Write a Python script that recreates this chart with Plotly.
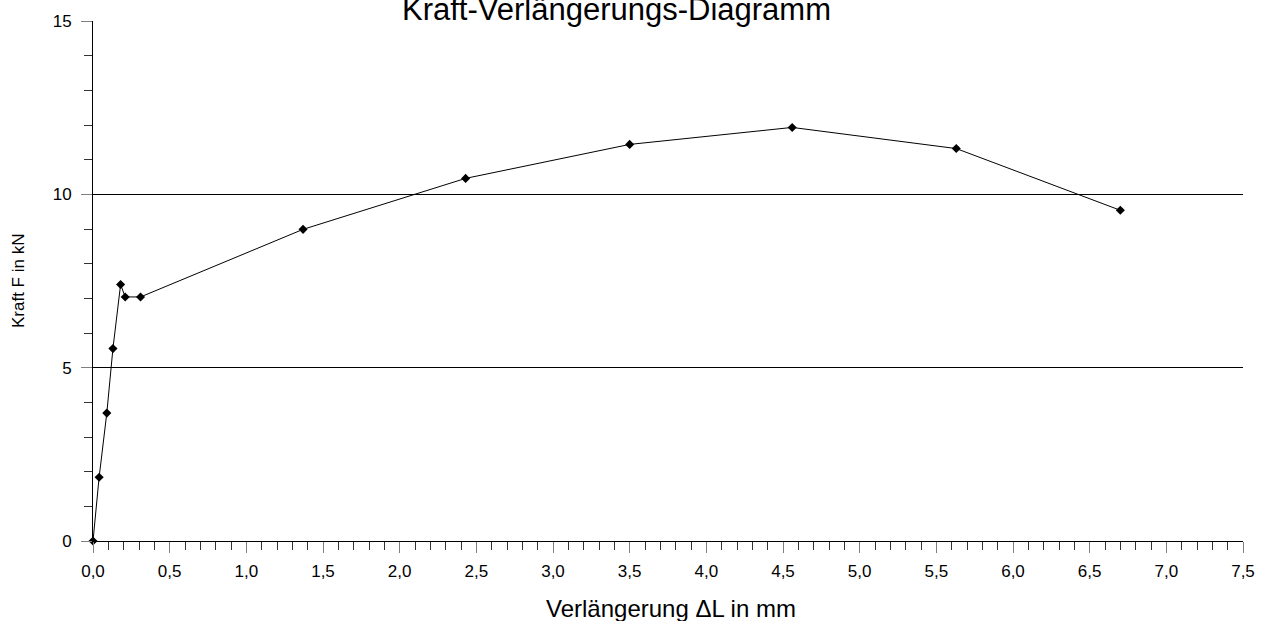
import plotly.graph_objects as go

verlaengerung_mm = [0.0, 0.04, 0.09, 0.13, 0.18, 0.21, 0.31, 1.37, 2.43, 3.50, 4.56, 5.63, 6.70]
kraft_kN = [0.0, 1.84, 3.69, 5.55, 7.40, 7.04, 7.04, 8.99, 10.46, 11.44, 11.93, 11.32, 9.54]

title_text = "Kraft-Verlängerungs-Diagramm"
x_title = "Verlängerung ΔL in mm"
y_title = "Kraft F in kN"

FONT = "Liberation Sans, Arial, sans-serif"

fig = go.Figure()
fig.add_trace(go.Scatter(
    x=verlaengerung_mm, y=kraft_kN, mode="lines+markers",
    line=dict(color="black", width=1),
    marker=dict(symbol="diamond", size=7, color="black"),
    showlegend=False, cliponaxis=False,
))

W, H = 1267, 621
L, R, T, B = 93, 24, 19, 80
plot_w = W - L - R
plot_h = H - T - B

fig.update_layout(
    width=W, height=H,
    margin=dict(l=L, r=R, t=T, b=B, pad=0),
    paper_bgcolor="white", plot_bgcolor="white",
    separators=", ",
    font=dict(family=FONT, size=17, color="black"),
    xaxis=dict(
        range=[0, 7.5], tick0=0, dtick=0.5, tickformat=".1f",
        showline=True, linecolor="black", linewidth=1,
        ticks="outside", ticklen=11, tickcolor="#808080", tickwidth=1,
        showgrid=False, zeroline=False,
        minor=dict(dtick=0.1, ticks="outside", ticklen=8, tickcolor="#333333", showgrid=False),
        tickfont=dict(size=17), ticklabelstandoff=4,
    ),
    yaxis=dict(
        range=[0, 15], tick0=0, dtick=5,
        showline=True, linecolor="black", linewidth=1,
        ticks="outside", ticklen=11, tickcolor="#808080", tickwidth=1,
        showgrid=True, gridcolor="black", gridwidth=1, zeroline=False,
        minor=dict(dtick=1, ticks="outside", ticklen=8, tickcolor="#333333", showgrid=False),
        tickfont=dict(size=17), ticklabelstandoff=6,
    ),
)

fig.add_annotation(
    text=title_text, xref="paper", yref="paper",
    x=(616 - L) / plot_w, y=1 + (T - 7) / plot_h,
    xanchor="center", yanchor="middle", showarrow=False,
    font=dict(size=31, family=FONT, color="black"),
)
fig.add_annotation(
    text=x_title, xref="paper", yref="paper",
    x=(671 - L) / plot_w, y=-(609 - (H - B)) / plot_h,
    xanchor="center", yanchor="middle", showarrow=False,
    font=dict(size=24, family=FONT, color="black"),
)
fig.add_annotation(
    text=y_title, xref="paper", yref="paper",
    x=-(L - 18) / plot_w, y=(H - B - 280) / plot_h,
    xanchor="center", yanchor="middle", showarrow=False, textangle=-90,
    font=dict(size=17, family=FONT, color="black"),
)

fig.write_html("out.html", config={"displayModeBar": False},
               post_script="document.body.style.margin='0px';")
